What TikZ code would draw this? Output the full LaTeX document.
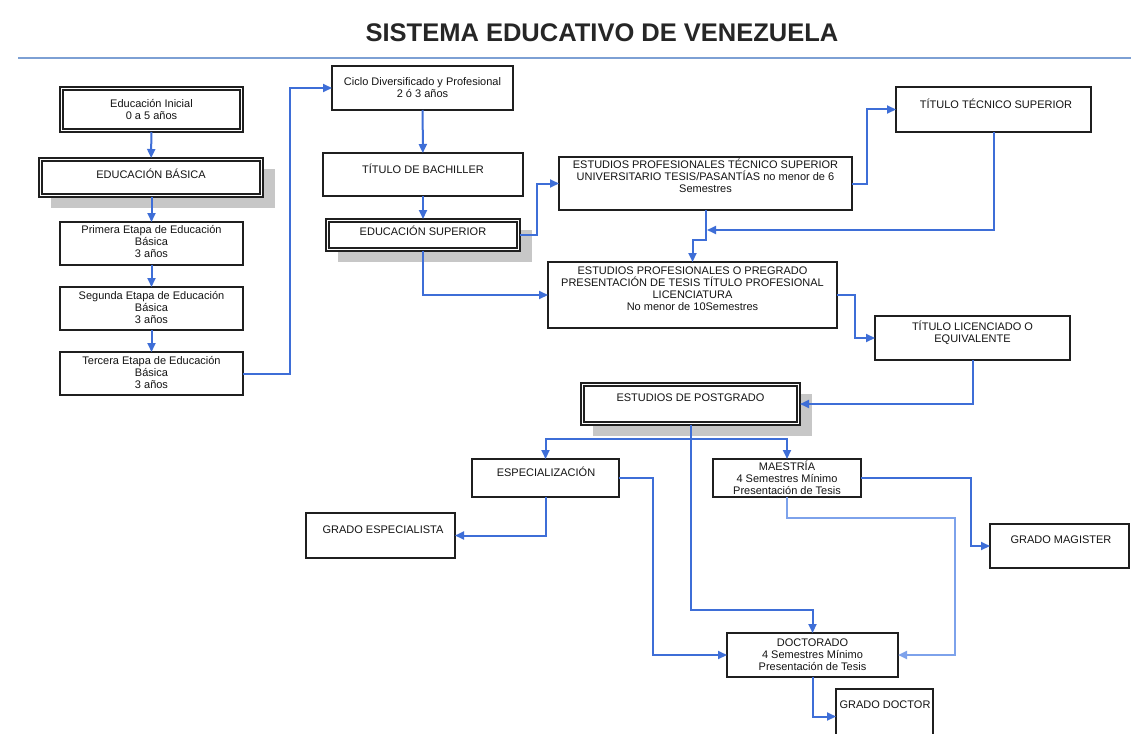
\documentclass[tikz,border=0pt]{standalone}
\usepackage{fontspec}
\setmainfont{Liberation Sans}
\usetikzlibrary{arrows.meta,shadows}
\definecolor{conn}{RGB}{62,110,215}
\definecolor{connlight}{RGB}{125,162,235}
\definecolor{rulec}{RGB}{125,160,212}
\tikzset{
  box/.style={rectangle, draw=black!88, line width=2pt, fill=white, inner sep=0pt, outer sep=0pt, anchor=north west},
  dbox/.style={box, line width=2.8pt,
    path picture={\draw[black!88, line width=1.2pt]
      ([shift={(3pt,-3pt)}]path picture bounding box.north west) rectangle
      ([shift={(-3pt,3pt)}]path picture bounding box.south east);}},
  shad/.style={drop shadow={shadow xshift=12pt, shadow yshift=-11pt, fill=black!22, opacity=1}},
  txt/.style={font=\fontsize{11}{12}\selectfont, align=center, inner sep=0pt, text=black!92},
  conn/.style={draw=conn, line width=2pt, -{Triangle[length=9pt,width=8pt]}},
  connl/.style={draw=connlight, line width=2.4pt, -{Triangle[length=9pt,width=8pt]}},
}
\begin{document}
\begin{tikzpicture}[x=1pt,y=-1pt]
\clip (0,0) rectangle (1131,733);
\fill[white] (0,0) rectangle (1131,733);

% title
\node[font=\fontsize{25.5}{30}\selectfont\bfseries, inner sep=0pt, text=black!85] (title) at (602,33) {SISTEMA EDUCATIVO DE VENEZUELA};
\draw[rulec, line width=2pt] (18,58) -- (1131,58);

% boxes
\node[dbox, minimum width=183pt, minimum height=45pt] (ini) at (60,87) {};
\node[dbox, shad, minimum width=224pt, minimum height=39pt] (basica) at (39,158) {};
\node[box, minimum width=183pt, minimum height=43pt] (e1) at (60,222) {};
\node[box, minimum width=183pt, minimum height=43pt] (e2) at (60,287) {};
\node[box, minimum width=183pt, minimum height=43pt] (e3) at (60,352) {};
\node[box, minimum width=181pt, minimum height=44pt] (ciclo) at (332,66) {};
\node[box, minimum width=200pt, minimum height=43pt] (bach) at (323,153) {};
\node[dbox, shad, minimum width=194pt, minimum height=32pt] (sup) at (326,219) {};
\node[box, minimum width=293pt, minimum height=53pt] (tec) at (559,157) {};
\node[box, minimum width=195pt, minimum height=45pt] (tts) at (896,87) {};
\node[box, minimum width=289pt, minimum height=66pt] (pre) at (548,262) {};
\node[box, minimum width=195pt, minimum height=44pt] (lic) at (875,316) {};
\node[dbox, shad, minimum width=219pt, minimum height=42pt] (post) at (581,383) {};
\node[box, minimum width=147pt, minimum height=38pt] (esp) at (472,459) {};
\node[box, minimum width=149pt, minimum height=45pt] (gesp) at (306,513) {};
\node[box, minimum width=148pt, minimum height=38pt] (mae) at (713,459) {};
\node[box, minimum width=139pt, minimum height=44pt] (gmag) at (990,524) {};
\node[box, minimum width=171pt, minimum height=44pt] (doc) at (727,633) {};
\node[box, minimum width=97pt, minimum height=55pt] (gdoc) at (836,689) {};

% texts
\node[txt] (ini-t) at (151.5,110) {Educación Inicial\\0 a 5 años};
\node[txt] (basica-t) at (151,174) {EDUCACIÓN BÁSICA};
\node[txt] (e1-t) at (151.5,242) {Primera Etapa de Educación\\Básica\\3 años};
\node[txt] (e2-t) at (151.5,307) {Segunda Etapa de Educación\\Básica\\3 años};
\node[txt] (e3-t) at (151.5,372) {Tercera Etapa de Educación\\Básica\\3 años};
\node[txt] (ciclo-t) at (422.5,87.5) {Ciclo Diversificado y Profesional\\2 ó 3 años};
\node[txt] (bach-t) at (423,169) {TÍTULO DE BACHILLER};
\node[txt] (sup-t) at (423,231) {EDUCACIÓN SUPERIOR};
\node[txt] (tec-t) at (705.5,176) {ESTUDIOS PROFESIONALES TÉCNICO SUPERIOR\\UNIVERSITARIO TESIS/PASANTÍAS no menor de 6\\Semestres};
\node[txt] (tts-t) at (996,104) {TÍTULO TÉCNICO SUPERIOR};
\node[txt] (pre-t) at (692.5,289) {ESTUDIOS PROFESIONALES O PREGRADO\\PRESENTACIÓN DE TESIS TÍTULO PROFESIONAL\\LICENCIATURA\\No menor de 10Semestres};
\node[txt] (lic-t) at (972.5,332.5) {TÍTULO LICENCIADO O\\EQUIVALENTE};
\node[txt] (post-t) at (690.5,398) {ESTUDIOS DE POSTGRADO};
\node[txt] (esp-t) at (546,472) {ESPECIALIZACIÓN};
\node[txt] (gesp-t) at (383,530) {GRADO ESPECIALISTA};
\node[txt] (mae-t) at (787,478) {MAESTRÍA\\4 Semestres Mínimo\\Presentación de Tesis};
\node[txt] (gmag-t) at (1061,540) {GRADO MAGISTER};
\node[txt] (doc-t) at (812.5,655) {DOCTORADO\\4 Semestres Mínimo\\Presentación de Tesis};
\node[txt] (gdoc-t) at (885,705) {GRADO DOCTOR};

% connectors
\coordinate (jn) at (707,230);
\coordinate (br) at (690.5,439);
\draw[conn] (ini) -- (basica);
\draw[conn] (basica.south -| e1.north) -- (e1);
\draw[conn] (e1) -- (e2);
\draw[conn] (e2) -- (e3);
\draw[conn] (e3.east) -- ++(47,0) |- (ciclo.west);
\draw[conn] (ciclo) -- (bach);
\draw[conn] (bach) -- (sup);
\draw[conn] (sup.east) -- ++(17,0) |- (tec.west);
\draw[conn] (sup.south) |- (pre.west);
\draw[conn] (tec.east) -- ++(15,0) |- (tts.west);
\draw[conn] (tec.south) -- ++(0,30) -| (pre.north);
\draw[conn] (tts.south) |- (jn);
\draw[conn] (pre.east) -- ++(18,0) |- (lic.west);
\draw[conn] (lic.south) |- (post.east);
\draw[conn] (post.south) -- ++(0,185) -| (doc.north);
\draw[conn] (br) -| (esp.north);
\draw[conn] (br) -| (mae.north);
\draw[conn] (esp.south) |- (gesp.east);
\draw[conn] (esp.east) -- ++(34,0) |- (doc.west);
\draw[conn] (mae.east) -- ++(110,0) |- (gmag.west);
\draw[connl] (mae.south) -- ++(0,21) -- ++(168,0) |- (doc.east);
\draw[conn] (doc.south) |- (gdoc.west);
\end{tikzpicture}
\end{document}
